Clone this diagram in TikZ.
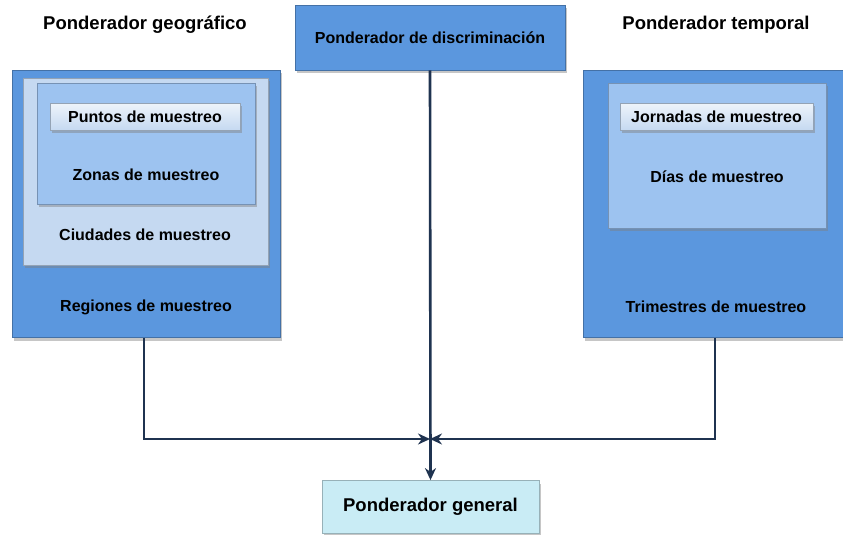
\documentclass[tikz,border=0pt]{standalone}
\usepackage{fontspec}
\setmainfont{Liberation Sans}
\usetikzlibrary{arrows.meta,shadows}
\definecolor{azul}{HTML}{5B97DE}
\definecolor{azulmed}{HTML}{9DC3F0}
\definecolor{azulclaro}{HTML}{C5D9F1}
\definecolor{celeste}{HTML}{C9ECF5}
\definecolor{marino}{HTML}{1F3350}
\tikzset{
  caja/.style={draw=#1!75!black, line width=0.8pt, fill=#1, inner sep=0pt,
    drop shadow={shadow xshift=2pt, shadow yshift=-3pt, opacity=0.45}},
  txt/.style={font=\bfseries\fontsize{16}{19}\selectfont, text=black},
  titulo/.style={font=\bfseries\fontsize{18.5}{22}\selectfont, text=black},
  flecha/.style={draw=marino, line width=2.6pt, -{Stealth[length=12pt,width=11pt]}},
}
\begin{document}
\begin{tikzpicture}[x=1pt,y=-1pt]
            \useasboundingbox (0,0) rectangle (843,535);
            % titulos
            \node[titulo] (tgeo) at (145,25) {Ponderador geográfico};
            \node[titulo] (ttemp) at (716,25) {Ponderador temporal};
            % ponderador geografico
            \node[caja=azul, minimum width=268pt, minimum height=267pt] (regiones) at (146,204) {};
            \node[caja=azulclaro, minimum width=245pt, minimum height=187pt] (ciudades) at (145.5,171.5) {};
            \node[caja=azulmed, minimum width=218pt, minimum height=121pt] (zonas) at (146,143.5) {};
            \node[caja=azulclaro, top color=white!70!azulclaro, bottom color=azulclaro, minimum width=190pt, minimum height=27pt] (puntos) at (145,116.5) {};
            \node[txt] (tpuntos) at (puntos) {Puntos de muestreo};
            \node[txt] (tzonas) at (146,175) {Zonas de muestreo};
            \node[txt] (tciudades) at (145,235) {Ciudades de muestreo};
            \node[txt] (tregiones) at (146,307) {Regiones de muestreo};
            % ponderador temporal
            \node[caja=azul, minimum width=262pt, minimum height=267pt] (trimestres) at (714,204) {};
            \node[caja=azulmed, minimum width=218pt, minimum height=145pt] (dias) at (717,155.5) {};
            \node[caja=azulclaro, top color=white!70!azulclaro, bottom color=azulclaro, minimum width=193pt, minimum height=27pt] (jornadas) at (716.5,116.5) {};
            \node[txt] (tjornadas) at (jornadas) {Jornadas de muestreo};
            \node[txt] (tdias) at (717,177) {Días de muestreo};
            \node[txt] (ttrimestres) at (716,307) {Trimestres de muestreo};
            % discriminacion y general
            \node[caja=azul, minimum width=270pt, minimum height=65pt] (discrim) at (430,37.5) {};
            \node[txt] (tdiscrim) at (discrim) {Ponderador de discriminación};
            \node[caja=celeste, minimum width=217pt, minimum height=53pt] (general) at (430.5,507) {};
            \node[titulo] (tgeneral) at (general) {Ponderador general};
            % conectores
            \coordinate (cruce) at (430,439);
            \draw[flecha] (regiones.south -| 144,0) |- (cruce);
            \draw[flecha] (trimestres.south -| 715,0) |- (cruce);
            \draw[flecha] (discrim.south) -- (general.north);
        \end{tikzpicture}
\end{document}
